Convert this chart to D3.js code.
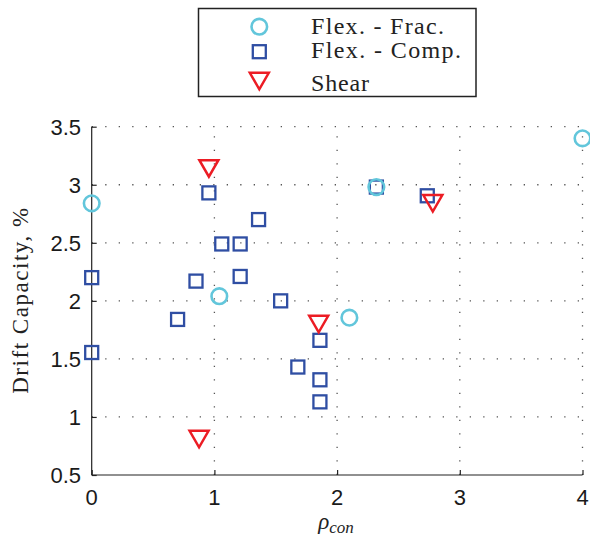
<!DOCTYPE html>
<html>
<head>
<meta charset="utf-8">
<script src="https://cdn.jsdelivr.net/npm/d3@7"></script>
<style>
  html, body { margin: 0; padding: 0; background: #fff; }
  svg { display: block; }
</style>
</head>
<body>
<div id="chart"></div>
<script>
// Drift capacity vs. confinement ratio, grouped by failure mode
const fracX  = [0.00, 1.04, 2.10, 2.32, 4.00];
const fracY  = [2.84, 2.04, 1.855, 2.98, 3.40];

const compX  = [0.00, 0.00, 0.955, 1.06, 1.21, 1.36, 1.21, 0.85, 0.70, 1.54, 1.86, 1.68, 1.86, 1.86, 2.32, 2.735];
const compY  = [2.20, 1.555, 2.93, 2.49, 2.49, 2.70, 2.21, 2.17, 1.84, 2.00, 1.66, 1.43, 1.32, 1.13, 2.98, 2.905];

const shearX = [0.955, 0.875, 1.85, 2.78];
const shearY = [3.14, 0.81, 1.80, 2.84];

const xTicks = [0, 1, 2, 3, 4];
const yTicks = [0.5, 1, 1.5, 2, 2.5, 3, 3.5];
const legendLabels = ["Flex. - Frac.", "Flex. - Comp.", "Shear"];

const W = 590, H = 540;
const colFrac = "#62c6db", colComp = "#2f4ea3", colShear = "#ec1c24";

const svg = d3.select("#chart").append("svg")
  .attr("width", W).attr("height", H);

const x = d3.scaleLinear().domain([0, 4]).range([91.7, 582.5]);
const y = d3.scaleLinear().domain([0.5, 3.5]).range([475, 126.7]);

// dotted grid
const grid = svg.append("g")
  .attr("stroke", "#555").attr("stroke-width", 1.3)
  .attr("stroke-dasharray", "1.3,12.2");
grid.selectAll("line.v").data(xTicks.slice(1)).join("line")
  .attr("x1", d => x(d)).attr("x2", d => x(d))
  .attr("y1", y(0.5)).attr("y2", y(3.5));
grid.selectAll("line.h").data(yTicks.slice(1)).join("line")
  .attr("y1", d => y(d)).attr("y2", d => y(d))
  .attr("x1", x(0)).attr("x2", x(4));

// axes (ticks pointing inward)
const axisFont = "'Liberation Sans', Arial, Helvetica, sans-serif";
const xAxis = svg.append("g").attr("transform", `translate(0,${y(0.5)})`)
  .call(d3.axisTop(x).tickValues(xTicks).tickSize(5).tickFormat(d3.format("d")));
xAxis.select(".domain").remove();
xAxis.selectAll("text").remove();
xAxis.append("line").attr("x1", x(0)).attr("x2", x(4)).attr("stroke", "#222").attr("stroke-width", 1.2);
xAxis.selectAll(".tick line").attr("stroke", "#222").attr("stroke-width", 1.2);
svg.append("g").selectAll("text").data(xTicks).join("text")
  .attr("x", d => x(d)).attr("y", 505)
  .attr("text-anchor", "middle")
  .attr("font-family", axisFont).attr("font-size", 22).attr("fill", "#1a1a1a")
  .text(d => d3.format("d")(d));

const yAxis = svg.append("g").attr("transform", `translate(${x(0)},0)`)
  .call(d3.axisRight(y).tickValues(yTicks).tickSize(5));
yAxis.select(".domain").remove();
yAxis.selectAll("text").remove();
yAxis.append("line").attr("y1", y(0.5)).attr("y2", y(3.5)).attr("stroke", "#222").attr("stroke-width", 1.2);
yAxis.selectAll(".tick line").attr("stroke", "#222").attr("stroke-width", 1.2);
svg.append("g").selectAll("text").data(yTicks).join("text")
  .attr("x", 81).attr("y", d => y(d) + 8)
  .attr("text-anchor", "end")
  .attr("font-family", axisFont).attr("font-size", 22).attr("fill", "#1a1a1a")
  .text(d => d3.format(".1~f")(d));

// axis titles
const serif = "'Liberation Serif', 'DejaVu Serif', serif";
svg.append("text")
  .attr("transform", `translate(28,${(y(0.5) + y(3.5)) / 2}) rotate(-90)`)
  .attr("text-anchor", "middle")
  .attr("font-family", serif).attr("font-size", 23).attr("fill", "#222")
  .attr("textLength", 186)
  .text("Drift Capacity, %");

const xl = svg.append("text")
  .attr("x", 336).attr("y", 529)
  .attr("text-anchor", "middle")
  .attr("font-family", serif).attr("font-style", "italic").attr("fill", "#222");
xl.append("tspan").attr("font-size", 23).text("\u03C1");
xl.append("tspan").attr("font-size", 17).attr("dy", 4).text("con");

// marker shapes
function drawSquares(g, xs, ys) {
  g.selectAll("rect").data(d3.zip(xs, ys)).join("rect")
    .attr("x", d => x(d[0]) - 6.5).attr("y", d => y(d[1]) - 6.5)
    .attr("width", 13).attr("height", 13)
    .attr("fill", "none").attr("stroke", colComp).attr("stroke-width", 2.3);
}
function drawCircles(g, xs, ys) {
  g.selectAll("circle").data(d3.zip(xs, ys)).join("circle")
    .attr("cx", d => x(d[0])).attr("cy", d => y(d[1])).attr("r", 7.8)
    .attr("fill", "none").attr("stroke", colFrac).attr("stroke-width", 2.6);
}
function triPath(cx, cy) {
  const w = 9.5, h = 16.5;
  return `M${cx - w},${cy - h / 2}L${cx + w},${cy - h / 2}L${cx},${cy + h / 2}Z`;
}
function drawTriangles(g, xs, ys) {
  g.selectAll("path").data(d3.zip(xs, ys)).join("path")
    .attr("d", d => triPath(x(d[0]), y(d[1])))
    .attr("fill", "none").attr("stroke", colShear).attr("stroke-width", 2.5)
    .attr("stroke-linejoin", "miter");
}

drawSquares(svg.append("g"), compX, compY);
drawCircles(svg.append("g"), fracX, fracY);
drawTriangles(svg.append("g"), shearX, shearY);

// legend
const lg = svg.append("g");
lg.append("rect").attr("x", 198.5).attr("y", 8.5).attr("width", 277.5).attr("height", 88)
  .attr("fill", "#fff").attr("stroke", "#222").attr("stroke-width", 1.5);
lg.append("circle").attr("cx", 259.3).attr("cy", 26.7).attr("r", 7.8)
  .attr("fill", "none").attr("stroke", colFrac).attr("stroke-width", 2.6);
lg.append("rect").attr("x", 259.3 - 6.5).attr("y", 51.7 - 6.5).attr("width", 13).attr("height", 13)
  .attr("fill", "none").attr("stroke", colComp).attr("stroke-width", 2.3);
lg.append("path").attr("d", triPath(259.3, 81))
  .attr("fill", "none").attr("stroke", colShear).attr("stroke-width", 2.5);
const legendY = [34.3, 58.3, 90.5];
const legendW = [133, 150, 58];
lg.selectAll("text").data(legendLabels).join("text")
  .attr("x", 311).attr("y", (d, i) => legendY[i])
  .attr("font-family", serif).attr("font-size", 24).attr("fill", "#222")
  .attr("textLength", (d, i) => legendW[i])
  .text(d => d);
</script>
</body>
</html>
